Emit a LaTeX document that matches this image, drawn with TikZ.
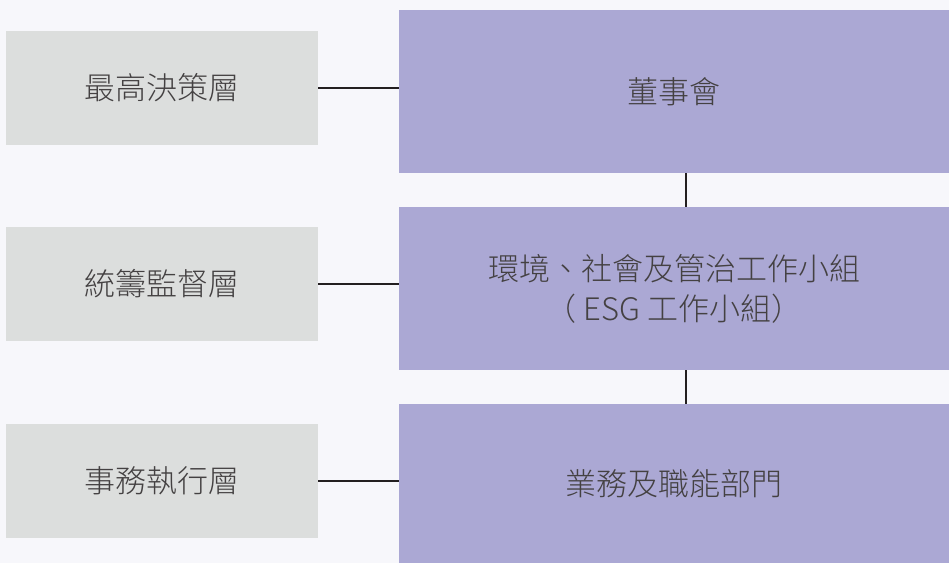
\documentclass[tikz,border=0pt]{standalone}
\usepackage{fontspec}
\newfontfamily\cjk{Noto Sans CJK TC Light}
\usepackage{tikz}

\definecolor{pagebg}{HTML}{F7F7FB}
\definecolor{levelgray}{HTML}{DCDEDD}
\definecolor{bodypurple}{HTML}{ABA8D4}
\definecolor{inkdark}{HTML}{231F20}

\begin{document}
\begin{tikzpicture}[x=1pt, y=-1pt,
	level/.style={rectangle, fill=levelgray, minimum width=312pt, minimum height=114pt, inner sep=0pt},
	body/.style={rectangle, fill=bodypurple, minimum width=550pt, inner sep=0pt, align=center},
	every node/.style={font=\cjk\fontsize{31}{40}\selectfont, text=inkdark!85},
	link/.style={draw=inkdark, line width=2pt}]
				\fill[pagebg] (0,0) rectangle (949,563);
				\useasboundingbox (0,0) rectangle (949,563);
				
				\node[level] (top) at (162,88) {最高決策層};
				\node[level] (mid) at (162,284) {統籌監督層};
				\node[level] (low) at (162,481) {事務執行層};
				
				\node[body, minimum height=163pt] (board) at (674,91.5) {董事會};
				\node[body, minimum height=163pt] (esg) at (674,288.5) {環境、社會及管治工作小組\\（ ESG 工作小組）};
				\node[body, minimum height=159pt] (dept) at (674,483.5) {業務及職能部門};
				
				\path[link] (top.east) edge (top.east -| board.west);
				\path[link] (mid.east) edge (mid.east -| esg.west);
				\path[link] (low.east) edge (low.east -| dept.west);
				\path[link] ([xshift=12pt]board.south) edge ([xshift=12pt]esg.north);
				\path[link] ([xshift=12pt]esg.south) edge ([xshift=12pt]dept.north);
				\end{tikzpicture}
\end{document}
